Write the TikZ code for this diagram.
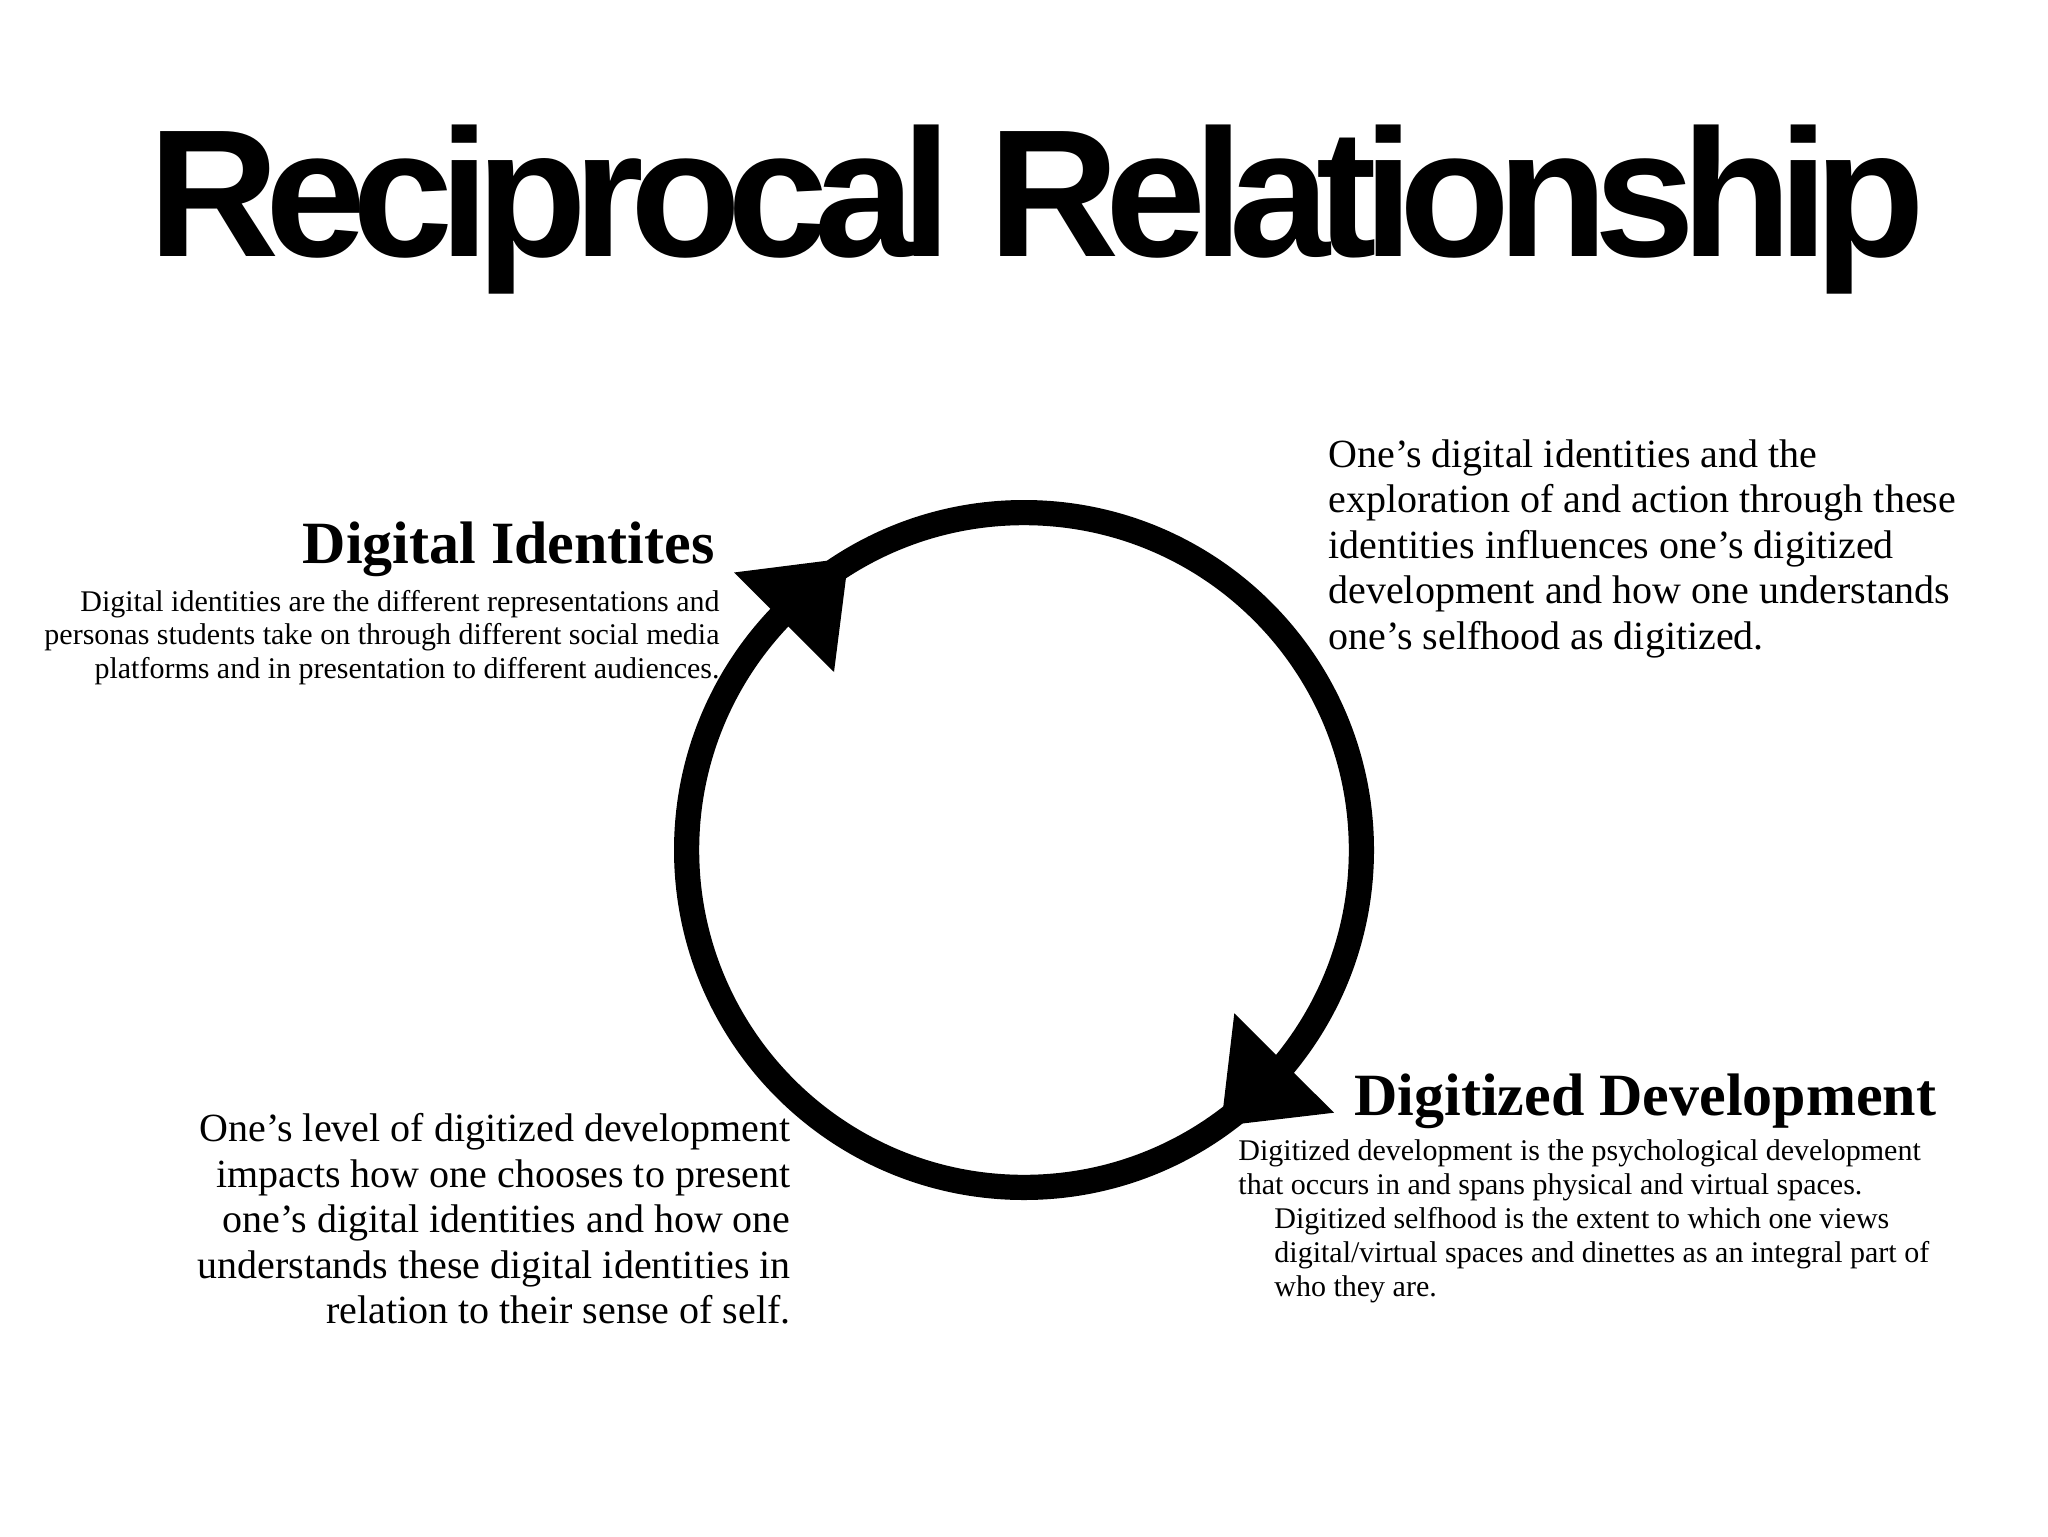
\documentclass[tikz,border=0pt]{standalone}
\usepackage{fontspec}
\setmainfont{Liberation Serif}
\newfontfamily\titlefont[LetterSpace=-7.64]{Liberation Sans}
\begin{document}
\begin{tikzpicture}[x=0.5pt,y=-0.5pt,
  heading/.style={inner sep=0pt,font=\fontsize{30pt}{34pt}\selectfont\bfseries},
  smalltext/.style={inner sep=0pt},
  bigtext/.style={inner sep=0pt},
  ring/.style={line width=12.6pt,draw=black},
  arrowhead/.style={fill=black,draw=none}]
\useasboundingbox[fill=white] (0,0) rectangle (2048,1536);

% title
\node[inner sep=0pt,anchor=base west,font=\titlefont\bfseries\fontsize{90.8pt}{100pt}\selectfont] (title) at (148,256) {Reciprocal Relationship};

% cycle
\draw[ring] (1024,850) circle[radius=168.7pt];
\node[inner sep=0pt,minimum size=0pt] (center) at (1024,850) {};
\fill[arrowhead] (734,572.5) -- (848.5,558) -- (834,672) -- cycle;
\fill[arrowhead] (1334,1112.7) -- (1221,1126) -- (1234.3,1013.3) -- cycle;

% Digital Identites
\node[heading,anchor=base east] (dihead) at (715,563.3) {Digital Identites};
\node[smalltext,anchor=base east] (ditext) at (720,611.5) {\fontsize{15pt}{16.65pt}\selectfont
\begin{tabular}[t]{@{}r@{}}
Digital identities are the different representations and\\
personas students take on through different social media\\
platforms and in presentation to different audiences.
\end{tabular}};

% top right
\node[bigtext,anchor=base west] (toptext) at (1328,467) {\fontsize{20pt}{22.75pt}\selectfont
\begin{tabular}[t]{@{}l@{}}
One’s digital identities and the\\
exploration of and action through these\\
identities influences one’s digitized\\
development and how one understands\\
one’s selfhood as digitized.
\end{tabular}};

% Digitized Development
\node[heading,anchor=base west] (ddhead) at (1354,1115) {Digitized Development};
\node[smalltext,anchor=base west] (ddtext) at (1238,1160) {\fontsize{15pt}{17.1pt}\selectfont
\begin{tabular}[t]{@{}l@{}}
Digitized development is the psychological development\\
that occurs in and spans physical and virtual spaces.\\
\hspace*{18pt}Digitized selfhood is the extent to which one views\\
\hspace*{18pt}digital/virtual spaces and dinettes as an integral part of\\
\hspace*{18pt}who they are.
\end{tabular}};

% bottom left
\node[bigtext,anchor=base east] (bottomtext) at (791,1141.5) {\fontsize{20pt}{22.75pt}\selectfont
\begin{tabular}[t]{@{}r@{}}
One’s level of digitized development\\
impacts how one chooses to present\\
one’s digital identities and how one\\
understands these digital identities in\\
relation to their sense of self.
\end{tabular}};
\end{tikzpicture}
\end{document}
